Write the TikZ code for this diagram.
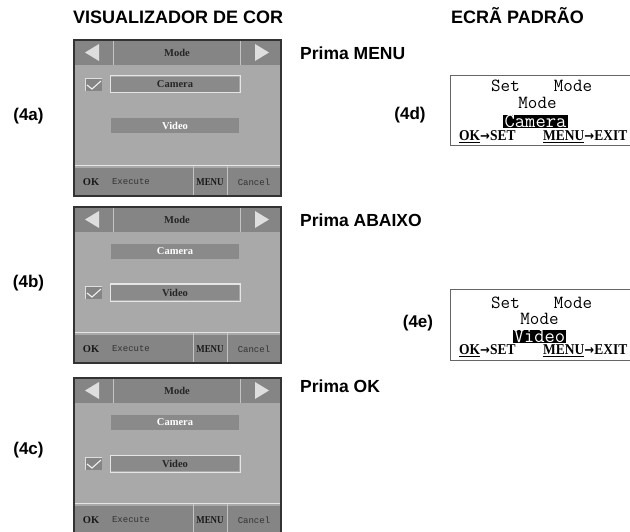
\documentclass[tikz,border=0pt]{standalone}
\usepackage{fontspec}
\setmainfont{Liberation Sans}
\newfontfamily\lserif{Liberation Serif}
\newfontfamily\lmono{Liberation Mono}
\newfontfamily\dvsans{DejaVu Sans}
\definecolor{scrbody}{HTML}{A9A9A9}
\definecolor{scrbar}{HTML}{858585}
\definecolor{scrbtn}{HTML}{8A8A8A}
\definecolor{scrtri}{HTML}{DEDEDE}
\definecolor{scrline}{HTML}{C4C4C4}
\tikzset{
 head/.style={font=\bfseries\fontsize{18}{20}\selectfont, inner sep=0, anchor=base west},
 prima/.style={font=\bfseries\fontsize{17.5}{20}\selectfont, inner sep=0, anchor=base west},
 lbl/.style={font=\bfseries\fontsize{17}{20}\selectfont, inner sep=0},
 scrtxt/.style={font=\lserif\bfseries\fontsize{10.5}{11}\selectfont, inner sep=0},
 scrmono/.style={font=\lmono\fontsize{9}{10}\selectfont, inner sep=0, text=black!80},
 lcd/.style={font=\ttfamily\fontsize{18.5}{20}\selectfont, inner sep=0},
 lcdbig/.style={font=\ttfamily\fontsize{20}{22}\selectfont, text=white, fill=black,
   inner ysep=0.3, text height=12.2, text depth=0},
 lcdkey/.style={font=\lserif\bfseries\fontsize{15}{16}\selectfont, inner sep=0, anchor=west},
 lcdbox/.style={draw=black!60, line width=1},
}
\newcommand\lcdarrow{{\dvsans\bfseries\fontsize{13}{13}\selectfont→}}
% #1 name, #2 y offset, #3 camera text colour, #4 video text colour, #5 top of selected bar
\newcommand\camscreen[5]{%
\begin{scope}[shift={(74,#2)}]
 \fill[scrbody] (0,0) rectangle (207,156);
 \fill[scrbar] (0,0) rectangle (207,25);
 \fill[scrbar] (0,128) rectangle (207,156);
 \draw[scrline, line width=0.6] (39,0)--(39,25) (166,0)--(166,25);
 \draw[white!70!scrbody, line width=0.6] (0,125)--(207,125);
 \fill[scrtri] (11,12.5)--(25,4)--(25,21)--cycle;
 \fill[scrtri] (195,12.5)--(181,4)--(181,21)--cycle;
 \node[scrtxt, text=black!85] (#1title) at (103,12.5) {Mode};
 \fill[scrbtn] (37,37) rectangle (165,52);
 \fill[scrbtn] (37,78) rectangle (165,93);
 \draw[white!80!gray, line width=1] (36,{#5-1}) rectangle (166,{#5+16});
 \node[scrtxt, text=#3] (#1cam) at (101,44.5) {Camera};
 \node[scrtxt, text=#4] (#1vid) at (101,85.5) {Video};
 \fill[scrbar] (11,{#5+1}) rectangle (28,{#5+14});
 \draw[white!75!gray, line width=0.6] (11,{#5+14})--(11,{#5+1})--(28,{#5+1});
 \draw[white!90!gray, line width=1.1] (13,{#5+8})--(18,{#5+12})--(27,{#5+4});
 \draw[scrline, line width=0.8] (119,126)--(119,156) (153,126)--(153,156);
 \node[scrtxt, text=black!90] (#1ok) at (17,142) {OK};
 \node[scrmono] (#1ex) at (57,142) {Execute};
 \node[scrtxt, text=black!90] (#1menu) at (136,142) {\scalebox{0.85}[1]{MENU}};
 \node[scrmono] (#1ca) at (180,142) {Cancel};
 \draw[black!80, line width=1.2] (0,0) rectangle (207,156);
\end{scope}}
\begin{document}
\begin{tikzpicture}[x=1pt,y=-1pt]
\useasboundingbox[fill=white] (0,0) rectangle (630,532);
% headings
\node[head] (h1) at (73,24) {VISUALIZADOR DE COR};
\node[head] (h2) at (451,24) {ECRÃ PADRÃO};
% colour screens
\camscreen{a}{40}{black!85}{white!92}{37}
\camscreen{b}{207}{white!92}{black!85}{78}
\camscreen{c}{378}{white!92}{black!85}{78}
% labels
\node[lbl] (l4a) at (28.5,116) {(4a)};
\node[lbl] (l4b) at (28.5,283) {(4b)};
\node[lbl] (l4c) at (28.5,450) {(4c)};
\node[lbl] (l4d) at (410,115) {(4d)};
\node[lbl] (l4e) at (418,323) {(4e)};
\node[prima] (p1) at (300,60) {Prima MENU};
\node[prima] (p2) at (300,226) {Prima ABAIXO};
\node[prima] (p3) at (300,392) {Prima OK};
% LCD 4d
\draw[lcdbox] (634,76) -- (450,76) -- (450,146) -- (634,146);
\node[lcd] (d1) at (505.5,86) {Set};
\node[lcd] (d2) at (573,86) {Mode};
\node[lcd] (d3) at (537.5,102.5) {Mode};
\node[lcdbig, inner xsep=2] (d4) at (535.5,121.3) {Camera};
\node[lcdkey] (d5) at (459,137) {\scalebox{0.9}[1]{\underline{OK}\lcdarrow SET}};
\node[lcdkey] (d6) at (543,137) {\scalebox{0.9}[1]{\underline{MENU}\lcdarrow EXIT}};
% LCD 4e
\draw[lcdbox] (634,289) -- (450,289) -- (450,360) -- (634,360);
\node[lcd] (e1) at (505.5,302.5) {Set};
\node[lcd] (e2) at (573,302.5) {Mode};
\node[lcd] (e3) at (539.5,318.5) {Mode};
\node[lcdbig, inner xsep=0.3] (e4) at (539.5,336.5) {Video};
\node[lcdkey] (e5) at (459,351) {\scalebox{0.9}[1]{\underline{OK}\lcdarrow SET}};
\node[lcdkey] (e6) at (543,351) {\scalebox{0.9}[1]{\underline{MENU}\lcdarrow EXIT}};
\end{tikzpicture}
\end{document}
